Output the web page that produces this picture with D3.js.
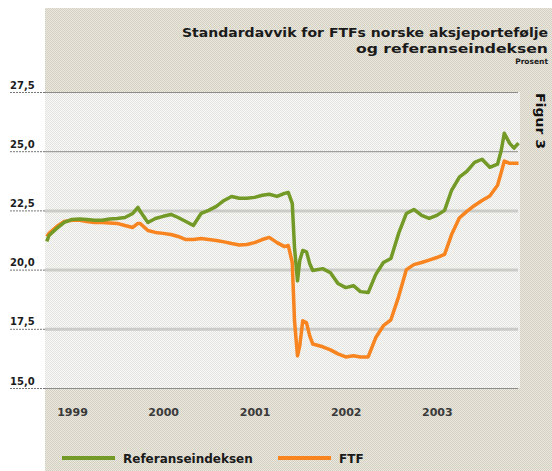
<!DOCTYPE html>
<html>
<head>
<meta charset="utf-8">
<script src="https://cdn.jsdelivr.net/npm/d3@7"></script>
<style>
  body { margin: 0; background: #fff; }
  text { font-family: "DejaVu Sans", "Liberation Sans", Arial, sans-serif; font-weight: bold; }
</style>
</head>
<body>
<script>
//data (monthly, with extra points round the sharp moves)
var dates = [
  "1998-09-22","1998-10-01","1998-11-01","1998-12-01",
  "1999-01-01","1999-02-01","1999-03-01","1999-04-01","1999-05-01","1999-06-01",
  "1999-07-01","1999-08-01","1999-09-01","1999-09-22","1999-10-01","1999-11-01","1999-12-01",
  "2000-01-01","2000-02-01","2000-03-01","2000-04-01","2000-05-01","2000-06-01",
  "2000-07-01","2000-08-01","2000-09-01","2000-10-01","2000-11-01","2000-12-01",
  "2001-01-01","2001-02-01","2001-03-01","2001-04-01","2001-05-01","2001-05-16",
  "2001-06-01","2001-06-10","2001-06-22","2001-07-01","2001-07-13","2001-07-28",
  "2001-08-10","2001-08-22","2001-10-01","2001-11-01","2001-12-01",
  "2002-01-01","2002-02-01","2002-03-01","2002-04-01","2002-05-01","2002-06-01",
  "2002-07-01","2002-08-01","2002-09-01","2002-10-01","2002-11-01","2002-12-01",
  "2003-01-01","2003-02-01","2003-03-01","2003-04-01","2003-05-01","2003-06-01",
  "2003-07-01","2003-08-01","2003-09-01","2003-09-16","2003-09-28","2003-10-19",
  "2003-11-06","2003-11-24"
];
//Referanseindeksen
var refValues = [
  21.19, 21.44, 21.74, 21.99,
  22.12, 22.14, 22.12, 22.08, 22.08, 22.14,
  22.16, 22.20, 22.37, 22.63, 22.46, 21.99, 22.16,
  22.25, 22.33, 22.20, 22.03, 21.86, 22.37,
  22.50, 22.67, 22.92, 23.09, 23.01, 23.01,
  23.05, 23.14, 23.18, 23.09, 23.22, 23.26,
  22.80, 20.93, 19.53, 20.38, 20.81, 20.75,
  20.25, 19.96, 20.04, 19.87, 19.41,
  19.24, 19.32, 19.07, 19.03, 19.79, 20.30,
  20.47, 21.53, 22.37, 22.54, 22.29, 22.16,
  22.29, 22.50, 23.35, 23.90, 24.15, 24.53,
  24.66, 24.32, 24.45, 25.04, 25.76, 25.34,
  25.13, 25.34
];
//FTF
var ftfValues = [
  21.40, 21.53, 21.82, 22.03,
  22.08, 22.08, 22.03, 21.99, 21.99, 21.97,
  21.95, 21.86, 21.78, 21.95, 21.95, 21.65, 21.57,
  21.53, 21.48, 21.40, 21.27, 21.27, 21.31,
  21.27, 21.23, 21.17, 21.10, 21.04, 21.06,
  21.14, 21.27, 21.36, 21.14, 20.97, 21.02,
  20.30, 17.84, 16.36, 16.78, 17.84, 17.75,
  17.20, 16.86, 16.74, 16.61, 16.44,
  16.31, 16.36, 16.31, 16.31, 17.12, 17.63,
  17.88, 18.86, 20.00, 20.21, 20.30, 20.40,
  20.51, 20.64, 21.48, 22.18, 22.46, 22.71,
  22.92, 23.11, 23.56, 24.11, 24.58, 24.49,
  24.49, 24.49
];
var yTicks = [15, 17.5, 20, 22.5, 25, 27.5];
var heavyTicks = [17.5, 20, 22.5];
var seriesNames = ["Referanseindeksen", "FTF"];
var seriesColors = ["#739a26", "#f7841f"];

window.onload = function(){
  var parse = d3.timeParse("%Y-%m-%d");
  var series = [refValues, ftfValues].map(function(vals){
    return vals.map(function(v, i){ return {date: parse(dates[i]), value: v}; });
  });

  var svg = d3.select("body").append("svg")
    .attr("width", 552)
    .attr("height", 471);

  //dotted paper textures
  var defs = svg.append("defs");
  function texture(id, base, dot){
    var p = defs.append("pattern")
      .attr("id", id)
      .attr("width", 2).attr("height", 2)
      .attr("patternUnits", "userSpaceOnUse");
    p.append("rect").attr("width", 2).attr("height", 2).attr("fill", base);
    p.append("rect").attr("width", 1).attr("height", 1).attr("fill", dot);
    p.append("rect").attr("x", 1).attr("y", 1).attr("width", 1).attr("height", 1).attr("fill", dot);
  }
  texture("beige", "#ebe8de", "#d3cfc3");
  texture("paper", "#fafaf8", "#e2e2de");

  var x = d3.scaleTime()
    .domain([new Date(1999, 0, 1), new Date(2004, 0, 1)])
    .range([72, 528]);
  var y = d3.scaleLinear()
    .domain([15, 27.5])
    .range([388, 92]);

  //background panels
  svg.append("rect")
    .attr("x", 45).attr("y", 8)
    .attr("width", 507).attr("height", 463)
    .attr("fill", "url(#beige)");
  svg.append("rect")
    .attr("x", 45).attr("y", y(27.5))
    .attr("width", 475).attr("height", y(15) - y(27.5))
    .attr("fill", "url(#paper)");

  //y axis used as grid
  var no = d3.formatLocale({decimal: ",", thousands: " ", grouping: [3], currency: ["", " kr"]});
  var yAxis = d3.axisLeft(y)
    .tickValues(yTicks)
    .tickSize(473)
    .tickFormat(no.format(".1f"));
  var gy = svg.append("g")
    .attr("class", "axis")
    .attr("transform", "translate(518,0)")
    .call(yAxis);
  gy.select(".domain").remove();
  gy.selectAll(".tick line")
    .attr("stroke", function(d){ return heavyTicks.indexOf(d) >= 0 ? "#cbcbc8" : "#8c8c8c"; })
    .attr("stroke-width", function(d){ return heavyTicks.indexOf(d) >= 0 ? 3 : 1; });
  //the part of each grid line outside the panel is dotted
  gy.selectAll(".tick").append("line")
    .attr("x1", -508).attr("x2", -473)
    .attr("stroke", "#777")
    .attr("stroke-width", 1)
    .attr("stroke-dasharray", "2,1");
  gy.selectAll(".tick text")
    .attr("x", -508)
    .attr("dy", -4)
    .attr("text-anchor", "start")
    .attr("fill", "#1c1c1c")
    .style("font-size", "10px");

  //x axis
  var xAxis = d3.axisBottom(x)
    .ticks(d3.timeYear.every(1))
    .tickFormat(d3.timeFormat("%Y"))
    .tickSize(0);
  var gx = svg.append("g")
    .attr("class", "axis")
    .attr("transform", "translate(0," + y(15) + ")")
    .call(xAxis);
  gx.select(".domain").remove();
  gx.selectAll(".tick text")
    .attr("y", 20)
    .attr("fill", "#3a3a3a")
    .style("font-size", "11px");
  gx.selectAll(".tick").filter(function(d){ return d.getFullYear() > 2003; }).remove();

  //lines
  var line = d3.line()
    .x(function(d){ return x(d.date); })
    .y(function(d){ return y(d.value); });
  svg.selectAll(".series")
    .data(series)
    .enter()
    .append("path")
    .attr("class", "series")
    .attr("d", line)
    .attr("fill", "none")
    .attr("stroke", function(d, i){ return seriesColors[i]; })
    .attr("stroke-width", 3.5)
    .attr("stroke-linejoin", "round");
  //green drawn on top of orange
  svg.selectAll(".series").filter(function(d, i){ return i === 0; }).raise();

  //titles, stretched to the width they take in the figure
  svg.append("text")
    .attr("x", 548).attr("y", 37)
    .attr("text-anchor", "end")
    .attr("textLength", 366)
    .attr("lengthAdjust", "spacingAndGlyphs")
    .style("font-size", "13px")
    .attr("fill", "#1a1a1a")
    .text("Standardavvik for FTFs norske aksjeportefølje");
  svg.append("text")
    .attr("x", 548).attr("y", 53)
    .attr("text-anchor", "end")
    .attr("textLength", 192)
    .attr("lengthAdjust", "spacingAndGlyphs")
    .style("font-size", "13px")
    .attr("fill", "#1a1a1a")
    .text("og referanseindeksen");
  svg.append("text")
    .attr("x", 548).attr("y", 64)
    .attr("text-anchor", "end")
    .style("font-size", "7.5px")
    .attr("fill", "#1a1a1a")
    .text("Prosent");
  svg.append("text")
    .attr("transform", "translate(536,93) rotate(90)")
    .attr("textLength", 56)
    .attr("lengthAdjust", "spacingAndGlyphs")
    .style("font-size", "12.5px")
    .attr("fill", "#111")
    .text("Figur 3");

  //legend
  var legendX = [62, 278];
  var legend = svg.selectAll(".legend")
    .data(seriesNames)
    .enter()
    .append("g")
    .attr("class", "legend")
    .attr("transform", function(d, i){ return "translate(" + legendX[i] + ",458)"; });
  legend.append("line")
    .attr("x1", 0).attr("x2", 53)
    .attr("stroke", function(d, i){ return seriesColors[i]; })
    .attr("stroke-width", 4);
  legend.append("text")
    .attr("x", 61).attr("y", 5)
    .style("font-size", "12px")
    .attr("fill", "#1a1a1a")
    .text(function(d){ return d; });
};
</script>
</body>
</html>
